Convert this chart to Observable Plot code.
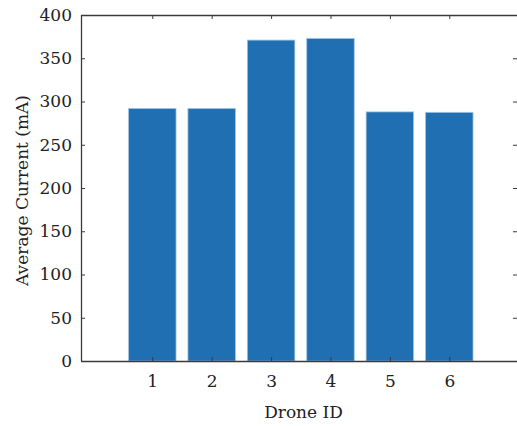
<!DOCTYPE html>
<html>
<head>
<meta charset="utf-8">
<script src="https://cdn.jsdelivr.net/npm/d3@7"></script>
<script src="https://cdn.jsdelivr.net/npm/@observablehq/plot@0.6"></script>
<style>
  html, body { margin: 0; padding: 0; background: #fff; }
</style>
</head>
<body>
<div id="chart"></div>
<script>
const droneIds = [1, 2, 3, 4, 5, 6];
const avgCurrent = [292, 292, 371, 373, 288, 287.5];
const xTicks = [1, 2, 3, 4, 5, 6];
const yTicks = [0, 50, 100, 150, 200, 250, 300, 350, 400];
const xLabel = "Drone ID";
const yLabel = "Average Current (mA)";

const data = droneIds.map((id, i) => ({id, current: avgCurrent[i]}));
const xDomain = [-0.2, 7.14];
const yDomain = [0, 400];
const tickX = 4 / 59.4;   // 4px tick length in x units
const tickY = 4 / 0.865;  // 4px tick length in y units
const spine = "#3a3a3a";

const chart = Plot.plot({
  width: 517,
  height: 426,
  marginLeft: 81,
  marginRight: 0,
  marginTop: 15,
  marginBottom: 65,
  style: {fontFamily: "DejaVu Serif", fontSize: "17px", color: "#222", background: "#fff"},
  x: {domain: xDomain},
  y: {domain: yDomain},
  marks: [
    Plot.rectY(data, {x1: d => d.id - 0.4, x2: d => d.id + 0.4, y: "current", fill: "#1f6fb2", stroke: "#a7c6e3", strokeWidth: 0.8}),
    // spines
    Plot.ruleY([yDomain[0], yDomain[1]], {x1: xDomain[0], x2: xDomain[1], stroke: spine, strokeWidth: 1.3}),
    Plot.ruleX([xDomain[0]], {y1: yDomain[0], y2: yDomain[1], stroke: spine, strokeWidth: 1.3}),
    // inward ticks
    Plot.ruleY(yTicks, {x1: xDomain[0], x2: xDomain[0] + tickX, stroke: spine, strokeWidth: 1}),
    Plot.ruleY(yTicks, {x1: xDomain[1] - tickX, x2: xDomain[1], stroke: spine, strokeWidth: 1}),
    Plot.ruleX(xTicks, {y1: yDomain[0], y2: yDomain[0] + tickY, stroke: spine, strokeWidth: 1}),
    Plot.ruleX(xTicks, {y1: yDomain[1], y2: yDomain[1] - tickY, stroke: spine, strokeWidth: 1}),
    // tick labels
    Plot.axisY(yTicks, {tickSize: 0, tickPadding: 9.5, label: null, fill: "#222"}),
    Plot.axisX(xTicks, {tickSize: 0, tickPadding: 13, label: null, fill: "#222"}),
    // axis titles
    Plot.text([xLabel], {frameAnchor: "bottom", textAnchor: "middle", lineAnchor: "middle", dy: 51, dx: 4, fill: "#222"}),
    Plot.text([yLabel], {frameAnchor: "left", textAnchor: "middle", lineAnchor: "middle", rotate: -90, dx: -59, dy: 2, fill: "#222"})
  ]
});
document.getElementById("chart").appendChild(chart);
</script>
</body>
</html>
